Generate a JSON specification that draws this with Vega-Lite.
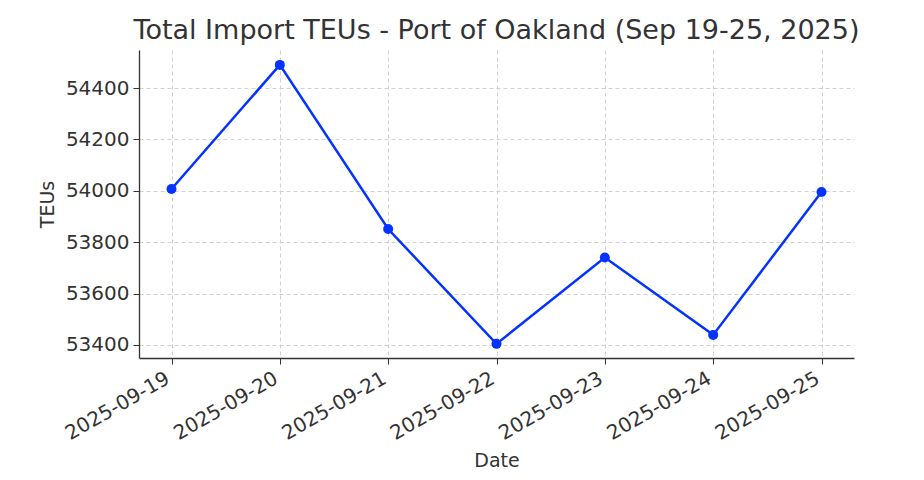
{
  "$schema": "https://vega.github.io/schema/vega-lite/v6.json",
  "autosize": "none",
  "width": 715,
  "height": 308,
  "padding": {"left": 139, "top": 50, "right": 70, "bottom": 122},
  "background": "white",
  "config": {
    "view": {"stroke": null},
    "font": "DejaVu Sans"
  },
  "title": {
    "text": "Total Import TEUs - Port of Oakland (Sep 19-25, 2025)",
    "font": "DejaVu Sans",
    "fontSize": 27,
    "fontWeight": "normal",
    "color": "#333333",
    "anchor": "middle",
    "offset": 5
  },
  "data": {
    "values": [
      {"Date": "2025-09-19", "TEUs": 54007},
      {"Date": "2025-09-20", "TEUs": 54490},
      {"Date": "2025-09-21", "TEUs": 53851},
      {"Date": "2025-09-22", "TEUs": 53404},
      {"Date": "2025-09-23", "TEUs": 53740},
      {"Date": "2025-09-24", "TEUs": 53439},
      {"Date": "2025-09-25", "TEUs": 53995}
    ]
  },
  "encoding": {
    "x": {
      "field": "Date",
      "type": "ordinal",
      "scale": {"type": "point", "padding": 0.3},
      "axis": {
        "title": "Date",
        "titleFont": "DejaVu Sans",
        "titleFontSize": 19,
        "titleFontWeight": "normal",
        "titleColor": "#333333",
        "titlePadding": 8,
        "labelFont": "DejaVu Sans",
        "labelFontSize": 20,
        "labelColor": "#333333",
        "labelAngle": -30,
        "labelAlign": "right",
        "labelBaseline": "top",
        "labelPadding": 4,
        "labelOffset": -9,
        "tickSize": 6,
        "tickColor": "#333333",
        "domainColor": "#333333",
        "domainWidth": 1.3,
        "grid": true,
        "gridColor": "#cccccc",
        "gridDash": [4, 3],
        "gridWidth": 0.9
      }
    },
    "y": {
      "field": "TEUs",
      "type": "quantitative",
      "scale": {"domain": [53349, 54548], "nice": false, "zero": false},
      "axis": {
        "title": "TEUs",
        "values": [53400, 53600, 53800, 54000, 54200, 54400],
        "format": "d",
        "titleFont": "DejaVu Sans",
        "titleFontSize": 19,
        "titleFontWeight": "normal",
        "titleColor": "#333333",
        "titlePadding": 8,
        "labelFont": "DejaVu Sans",
        "labelFontSize": 20,
        "labelColor": "#333333",
        "labelPadding": 4,
        "tickSize": 6,
        "tickColor": "#333333",
        "domainColor": "#333333",
        "domainWidth": 1.3,
        "grid": true,
        "gridColor": "#cccccc",
        "gridDash": [4, 3],
        "gridWidth": 0.9
      }
    }
  },
  "layer": [
    {"mark": {"type": "line", "color": "#0433ff", "strokeWidth": 2.5}},
    {"mark": {"type": "point", "filled": true, "color": "#0433ff", "opacity": 1, "size": 100}}
  ]
}
